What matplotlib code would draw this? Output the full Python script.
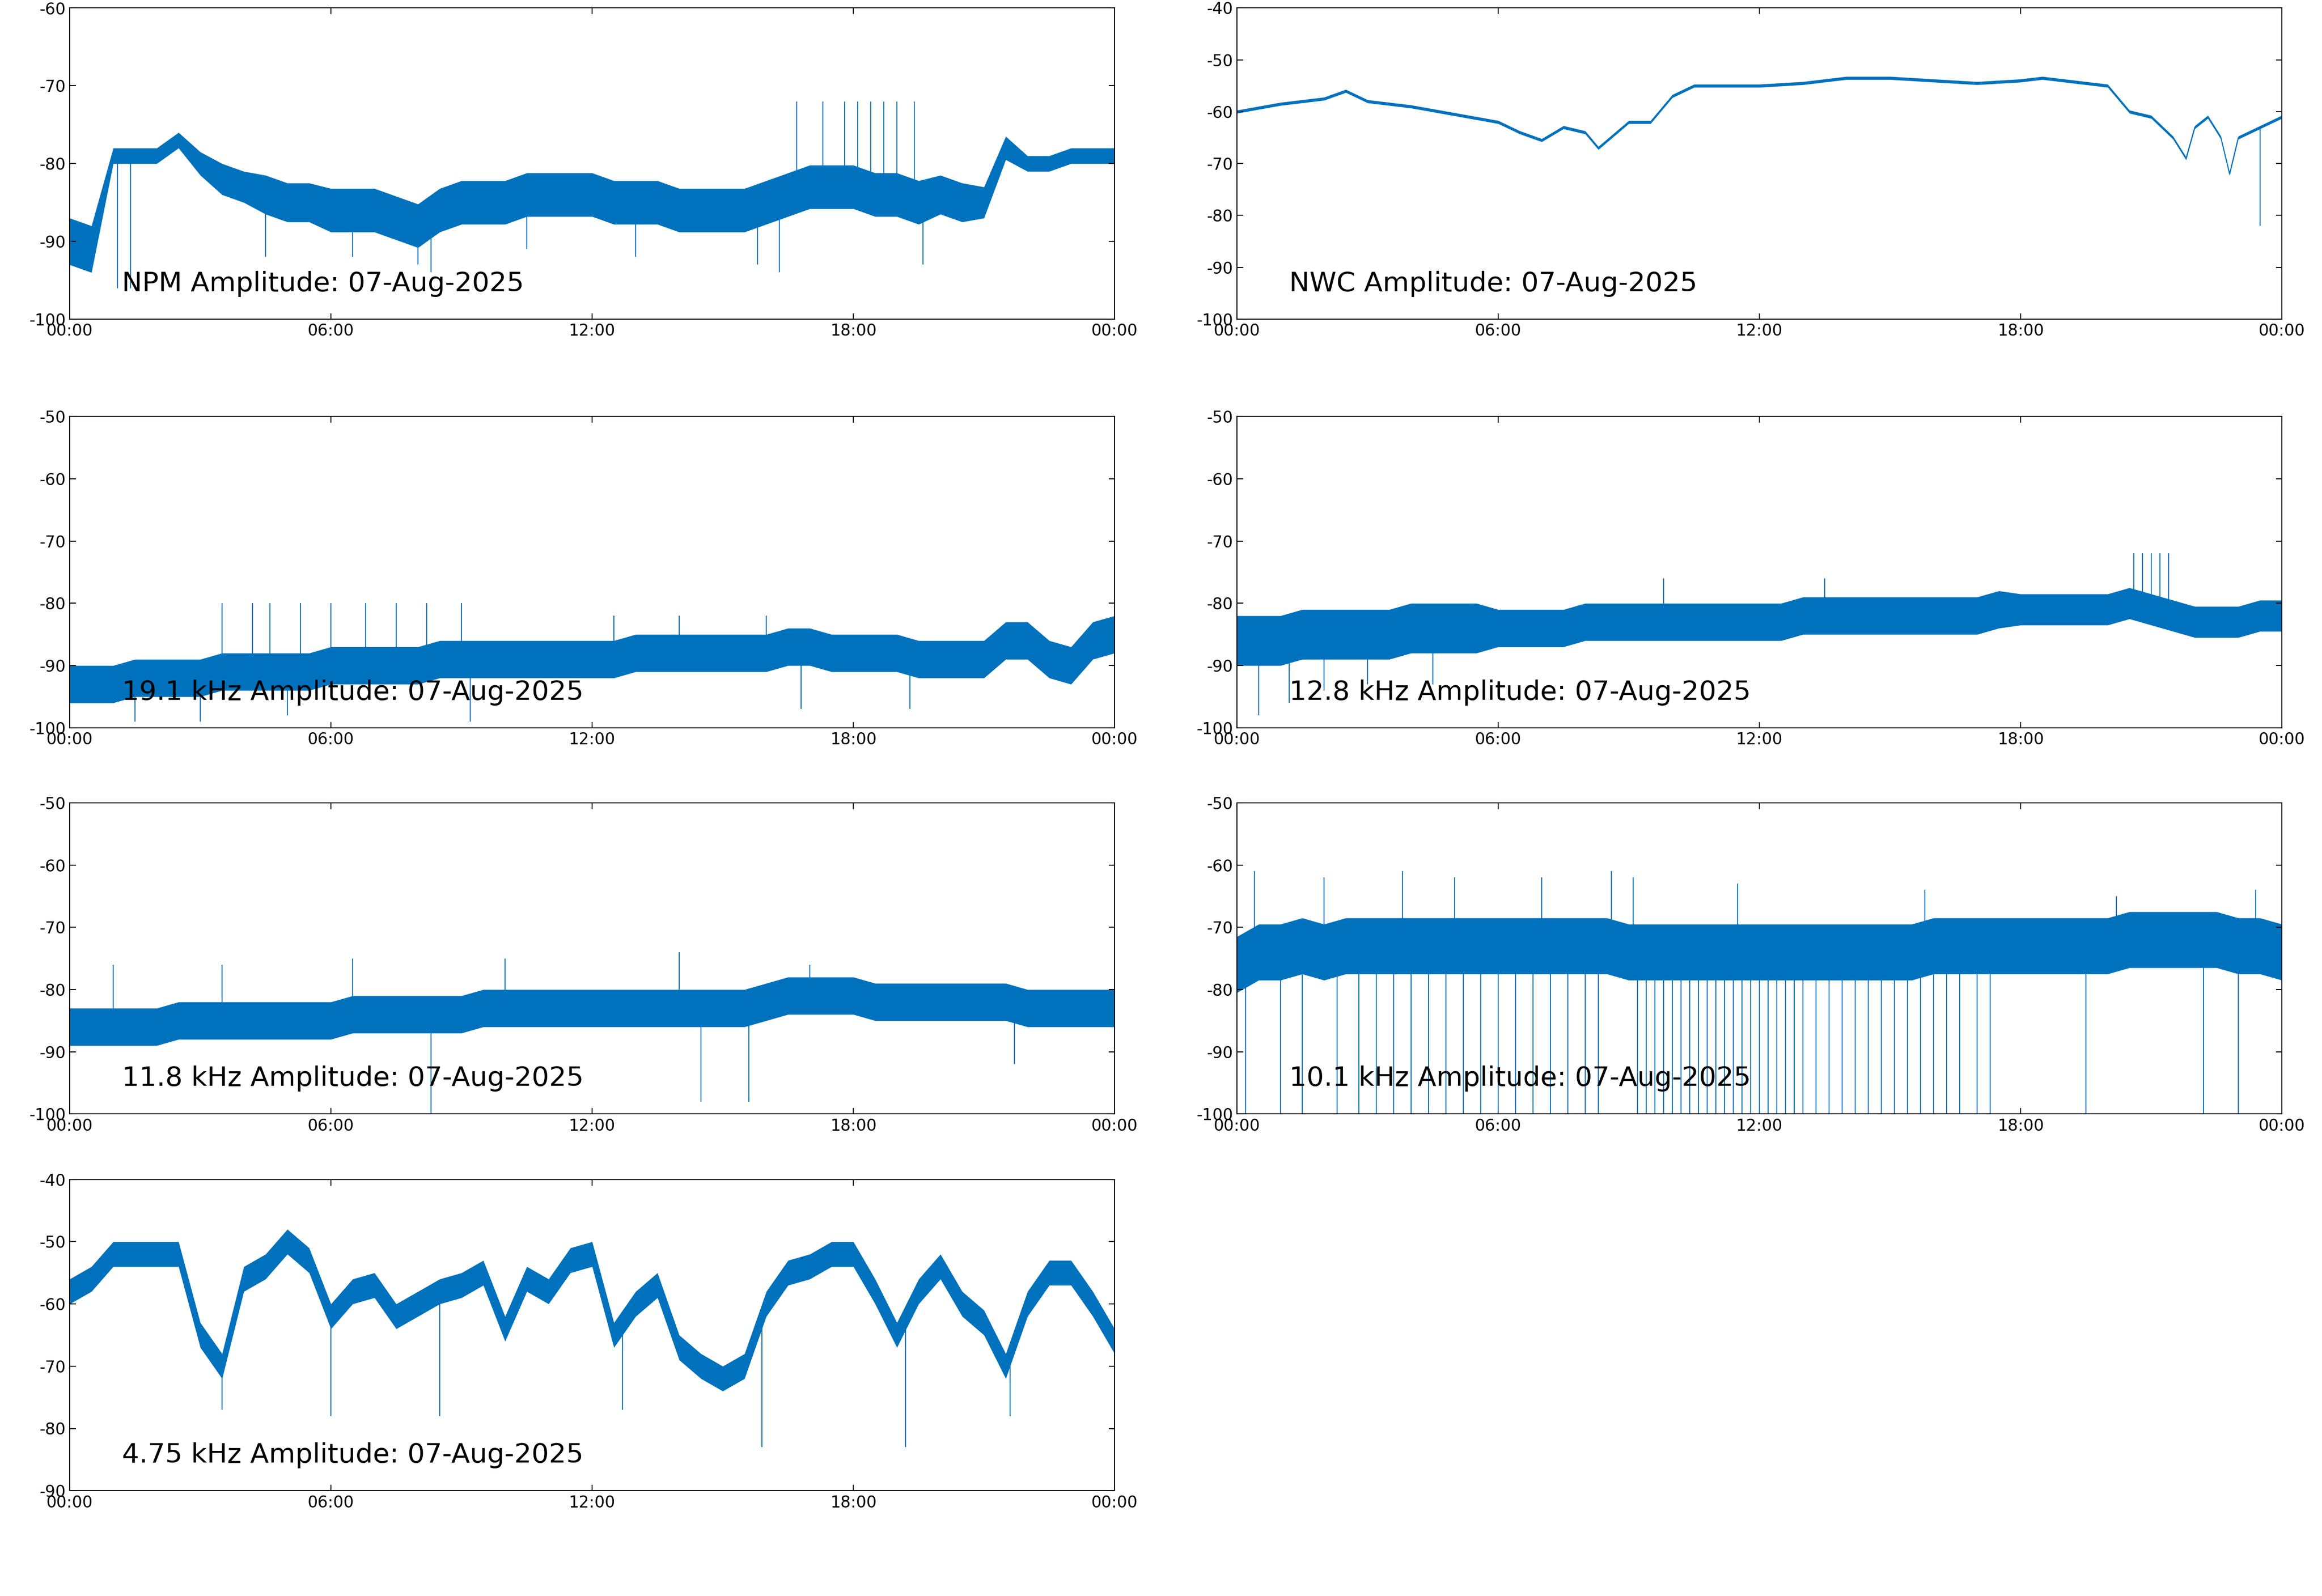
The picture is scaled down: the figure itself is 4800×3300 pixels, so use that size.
import matplotlib
matplotlib.use("Agg")
import matplotlib.pyplot as plt
import numpy as np

plt.rcParams["axes.unicode_minus"] = False
plt.rcParams["font.family"] = "DejaVu Sans"

# half-hour grid, 00:00 .. 24:00
hours = np.arange(49) * 0.5

npm_c = [-90, -91, -79, -79, -79, -77, -80, -82, -83, -84, -85, -85,
         -86, -86, -86, -87, -88, -86, -85, -85, -85, -84, -84, -84,
         -84, -85, -85, -85, -86, -86, -86, -86, -85, -84, -83, -83,
         -83, -84, -84, -85, -84, -85, -85, -78, -80, -80, -79, -79, -79]
npm_s = [3, 3, 1, 1, 1, 1, 1.5, 2, 2, 2.5, 2.5, 2.5,
         2.8, 2.8, 2.8, 2.8, 2.8, 2.8, 2.8, 2.8, 2.8, 2.8, 2.8, 2.8,
         2.8, 2.8, 2.8, 2.8, 2.8, 2.8, 2.8, 2.8, 2.8, 2.8, 2.8, 2.8,
         2.8, 2.8, 2.8, 2.8, 2.5, 2.5, 2, 1.5, 1, 1, 1, 1, 1]
npm_spike_t = [1.1, 1.4, 16.7, 17.3, 17.8, 18.1, 18.4, 18.7, 19.0, 19.4,
               4.5, 6.5, 8.0, 8.3, 10.5, 13.0, 15.8, 16.3, 19.6]
npm_spike_v = [-96, -96, -72, -72, -72, -72, -72, -72, -72, -72,
               -92, -92, -93, -94, -91, -92, -93, -94, -93]

nwc_t = [0, 1, 2, 2.5, 3, 4, 5, 6, 6.5, 7, 7.5, 8, 8.3, 9, 9.5, 10, 10.5, 12,
         13, 14, 15, 16, 17, 18, 18.5, 19, 20, 20.5, 21, 21.5, 21.8, 22, 22.3,
         22.6, 22.8, 23, 23.5, 24]
nwc_v = [-60, -58.5, -57.5, -56, -58, -59, -60.5, -62, -64, -65.5, -63, -64, -67,
         -62, -62, -57, -55, -55, -54.5, -53.5, -53.5, -54, -54.5, -54, -53.5,
         -54, -55, -60, -61, -65, -69, -63, -61, -65, -72, -65, -63, -61]
nwc_spike_t = [23.5]
nwc_spike_v = [-82]

k191_c = [-93, -93, -93, -92, -92, -92, -92, -91, -91, -91, -91, -91,
          -90, -90, -90, -90, -90, -89, -89, -89, -89, -89, -89, -89,
          -89, -89, -88, -88, -88, -88, -88, -88, -88, -87, -87, -88,
          -88, -88, -88, -89, -89, -89, -89, -86, -86, -89, -90, -86, -85]
k191_s = [3] * 49
k191_spike_t = [3.5, 4.2, 4.6, 5.3, 6.0, 6.8, 7.5, 8.2, 9.0, 12.5, 14.0, 16.0,
                1.5, 3.0, 5.0, 9.2, 16.8, 19.3]
k191_spike_v = [-80, -80, -80, -80, -80, -80, -80, -80, -80, -82, -82, -82,
                -99, -99, -98, -99, -97, -97]

k128_c = [-86, -86, -86, -85, -85, -85, -85, -85, -84, -84, -84, -84,
          -84, -84, -84, -84, -83, -83, -83, -83, -83, -83, -83, -83,
          -83, -83, -82, -82, -82, -82, -82, -82, -82, -82, -82, -81,
          -81, -81, -81, -81, -81, -80, -81, -82, -83, -83, -83, -82, -82]
k128_s = [4] * 12 + [3] * 24 + [2.5] * 13
k128_spike_t = [20.6, 20.8, 21.0, 21.2, 21.4, 0.5, 1.2, 2.0, 3.0, 4.5, 9.8, 13.5]
k128_spike_v = [-72, -72, -72, -72, -72, -98, -96, -94, -93, -93, -76, -76]

k118_c = [-86, -86, -86, -86, -86, -85, -85, -85, -85, -85, -85, -85,
          -85, -84, -84, -84, -84, -84, -84, -83, -83, -83, -83, -83,
          -83, -83, -83, -83, -83, -83, -83, -83, -82, -81, -81, -81,
          -81, -82, -82, -82, -82, -82, -82, -82, -83, -83, -83, -83, -83]
k118_s = [3] * 49
k118_spike_t = [8.3, 14.5, 15.6, 21.7, 14.0, 1.0, 3.5, 6.5, 10.0, 17.0]
k118_spike_v = [-100, -98, -98, -92, -74, -76, -76, -75, -75, -76]

k101_c = [-76, -74, -74, -73, -74, -73, -73, -73, -73, -73, -73, -73,
          -73, -73, -73, -73, -73, -73, -74, -74, -74, -74, -74, -74,
          -74, -74, -74, -74, -74, -74, -74, -74, -73, -73, -73, -73,
          -73, -73, -73, -73, -73, -72, -72, -72, -72, -72, -73, -73, -74]
k101_s = [4.5] * 49
k101_spike_t = [0.2, 1.0, 1.5, 2.3, 2.8, 3.2, 3.6, 4.0, 4.4, 4.8, 5.2, 5.6, 6.0,
                6.4, 6.8, 7.2, 7.6, 8.0, 8.3, 9.2, 9.4, 9.6, 9.8, 10.0, 10.2,
                10.4, 10.6, 10.8, 11.0, 11.2, 11.4, 11.6, 11.8, 12.0, 12.2, 12.4,
                12.6, 12.8, 13.0, 13.3, 13.6, 13.9, 14.2, 14.5, 14.8, 15.1, 15.4,
                15.7, 16.0, 16.3, 16.6, 17.0, 17.3, 19.5, 22.2, 23.0,
                0.4, 2.0, 3.8, 5.0, 7.0, 8.6, 9.1, 11.5, 15.8, 20.2, 23.4]
k101_spike_v = [-100] * 56 + [-61, -62, -61, -62, -62, -61, -62, -63, -64, -65, -64]

k475_c = [-58, -56, -52, -52, -52, -52, -65, -70, -56, -54, -50, -53,
          -62, -58, -57, -62, -60, -58, -57, -55, -64, -56, -58, -53,
          -52, -65, -60, -57, -67, -70, -72, -70, -60, -55, -54, -52,
          -52, -58, -65, -58, -54, -60, -63, -70, -60, -55, -55, -60, -66]
k475_s = [2] * 49
k475_spike_t = [3.5, 6.0, 8.5, 12.7, 15.9, 19.2, 21.6, 24.0]
k475_spike_v = [-77, -78, -78, -77, -83, -83, -78, -75]

panels = [
    ("NPM Amplitude: 07-Aug-2025", (-100, -60), hours, npm_c, npm_s, npm_spike_t, npm_spike_v),
    ("NWC Amplitude: 07-Aug-2025", (-100, -40), nwc_t, nwc_v, [0.3] * len(nwc_v), nwc_spike_t, nwc_spike_v),
    ("19.1 kHz Amplitude: 07-Aug-2025", (-100, -50), hours, k191_c, k191_s, k191_spike_t, k191_spike_v),
    ("12.8 kHz Amplitude: 07-Aug-2025", (-100, -50), hours, k128_c, k128_s, k128_spike_t, k128_spike_v),
    ("11.8 kHz Amplitude: 07-Aug-2025", (-100, -50), hours, k118_c, k118_s, k118_spike_t, k118_spike_v),
    ("10.1 kHz Amplitude: 07-Aug-2025", (-100, -50), hours, k101_c, k101_s, k101_spike_t, k101_spike_v),
    ("4.75 kHz Amplitude: 07-Aug-2025", (-90, -40), hours, k475_c, k475_s, k475_spike_t, k475_spike_v),
]

color = "#0072BD"
fig = plt.figure(figsize=(16, 11), dpi=300)
lefts = [0.030, 0.5327]
bottoms = [0.800, 0.544, 0.302, 0.066]
w, h = 0.4500, 0.195

for i, (label, ylim, t, c, s, st, sv) in enumerate(panels):
    ax = fig.add_axes([lefts[i % 2], bottoms[i // 2], w, h])
    t = np.asarray(t, float)
    c = np.asarray(c, float)
    s = np.asarray(s, float)
    ax.fill_between(t, c - s, c + s, color=color, lw=0)
    ax.plot(t, c, color=color, lw=0.5)
    base = np.interp(st, t, c)
    ax.vlines(st, base, sv, color=color, lw=0.5)
    ax.set_xlim(0, 24)
    ax.set_ylim(*ylim)
    ax.set_xticks([0, 6, 12, 18, 24])
    ax.set_xticklabels(["00:00", "06:00", "12:00", "18:00", "00:00"])
    ax.set_yticks(np.arange(ylim[0], ylim[1] + 1, 10))
    ax.tick_params(direction="in", top=True, right=True, labelsize=8,
                   length=3, width=0.5, pad=2)
    for sp in ax.spines.values():
        sp.set_linewidth(0.5)
    ax.text(0.05, 0.09, label, transform=ax.transAxes, fontsize=13.5)

fig.savefig("out.png", dpi=300)
